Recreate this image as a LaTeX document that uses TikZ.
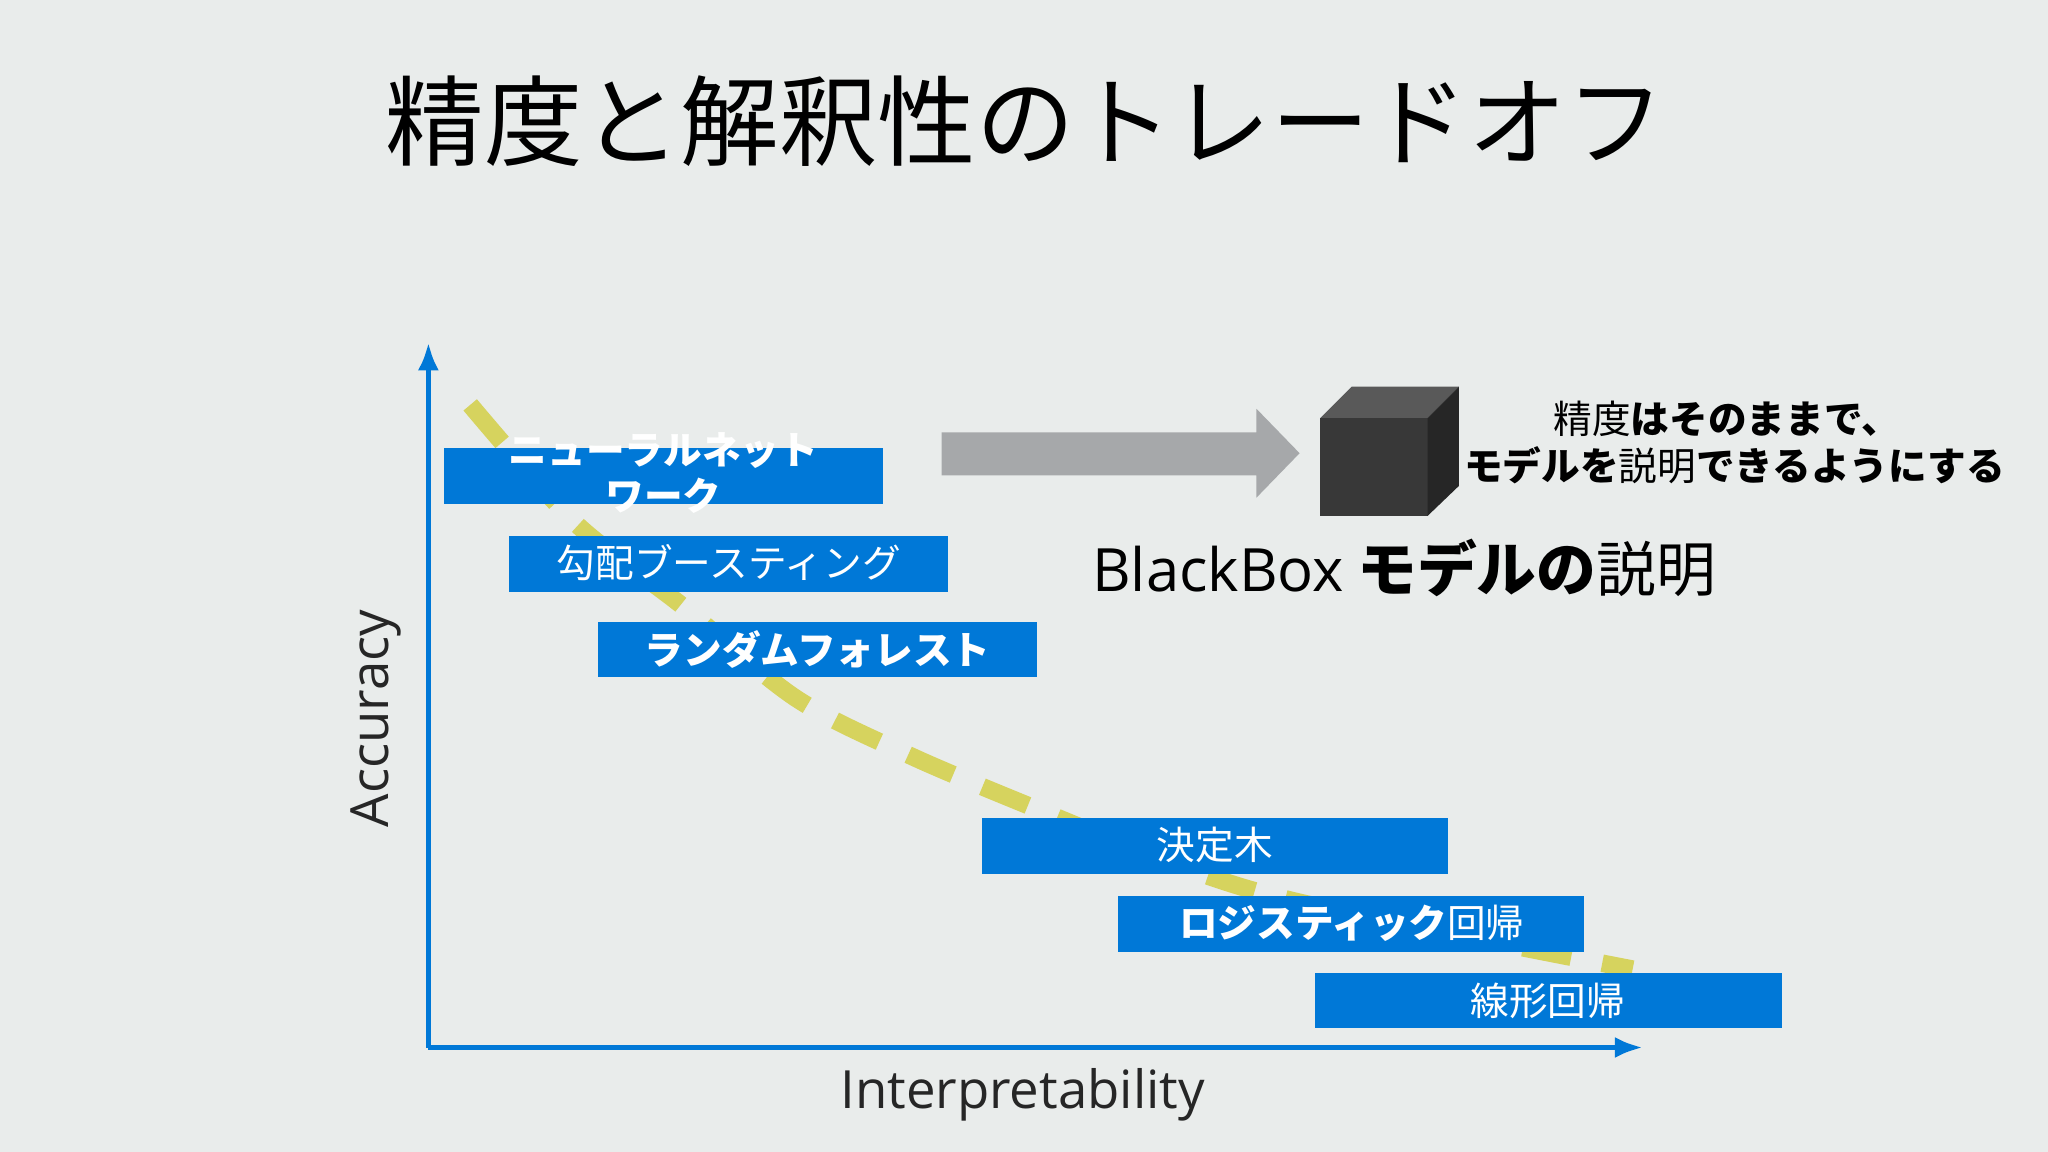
\documentclass[tikz,border=0pt]{standalone}
\usepackage{fontspec}
\usetikzlibrary{arrows.meta}
\setmainfont{Noto Sans CJK JP}
\newfontfamily\lat{Open Sans}
\definecolor{bg}{HTML}{E9ECEB}
\definecolor{bl}{HTML}{0078D7}
\definecolor{yl}{HTML}{D6D35E}
\definecolor{ga}{HTML}{A6A8AA}
\tikzset{box/.style={fill=bl,draw=none},lbl/.style={text=white,font=\fontsize{11}{12}\selectfont,align=center}}
\begin{document}
\begin{tikzpicture}[x=0.01306cm,y=-0.01306cm]
\fill[bg] (0,0) rectangle (1568,882);
\useasboundingbox (0,0) rectangle (1568,882);
\node (title) at (785,93) {\fontsize{28}{30}\selectfont 精度と解釈性のトレードオフ};
\coordinate (o) at (328,802);
\coordinate (yt) at (328,262);
\coordinate (xt) at (1258,802);
\draw[bl,line width=1.6pt,-{Latex[length=8pt,width=6pt]}] (o) -- (yt);
\draw[bl,line width=1.6pt,-{Latex[length=8pt,width=6pt]}] (o) -- (xt);
\draw[yl,line width=5pt,dash pattern=on 14pt off 9pt] plot[smooth] coordinates {(360,310) (440,400) (520,462) (610,535) (700,580) (800,622) (900,662) (1000,692) (1250,742)};
\fill[box] (340,343) rectangle (676,386) node[midway] (nn) {};
\node[lbl,font=\fontsize{11}{13}\selectfont\bfseries] at (508,362) {ニューラルネット\\ワーク};
\fill[box] (390,410) rectangle (726,453);
\node[lbl] (gb) at (558,431) {勾配ブースティング};
\fill[box] (458,476) rectangle (794,518);
\node[lbl,font=\fontsize{11}{12}\selectfont\bfseries] (rf) at (626,497) {ランダムフォレスト};
\fill[box] (752,626) rectangle (1109,669);
\node[lbl] (dt) at (930,647) {決定木};
\fill[box] (856,686) rectangle (1213,729);
\node[lbl] (lr) at (1035,707) {\textbf{ロジスティック}回帰};
\fill[box] (1007,745) rectangle (1364,787);
\node[lbl] (lin) at (1185,766) {線形回帰};
\fill[ga] (721,331) -- (962,331) -- (962,313) -- (995,347) -- (962,381) -- (962,364) -- (721,364) -- cycle;
\fill[black!78] (1011,320) rectangle (1093,395);
\fill[black!65] (1011,320) -- (1035,296) -- (1117,296) -- (1093,320) -- cycle;
\fill[black!85] (1093,320) -- (1117,296) -- (1117,372) -- (1093,395) -- cycle;
\node[font=\fontsize{11}{12}\selectfont] (t1) at (1322,321) {精度\textbf{はそのままで、}};
\node[font=\fontsize{11}{12}\selectfont] (t2) at (1328,356) {\textbf{モデルを}説明\textbf{できるようにする}};
\node[font=\fontsize{17}{20}\selectfont] (bb) at (1075,435) {{\lat BlackBox} \textbf{モデルの}説明};
\node[rotate=90,font=\fontsize{15}{16}\selectfont\lat,text=black!85] (acc) at (288,550) {Accuracy};
\node[font=\fontsize{15}{16}\selectfont\lat,text=black!85] (int) at (783,838) {Interpretability};
\end{tikzpicture}
\end{document}
